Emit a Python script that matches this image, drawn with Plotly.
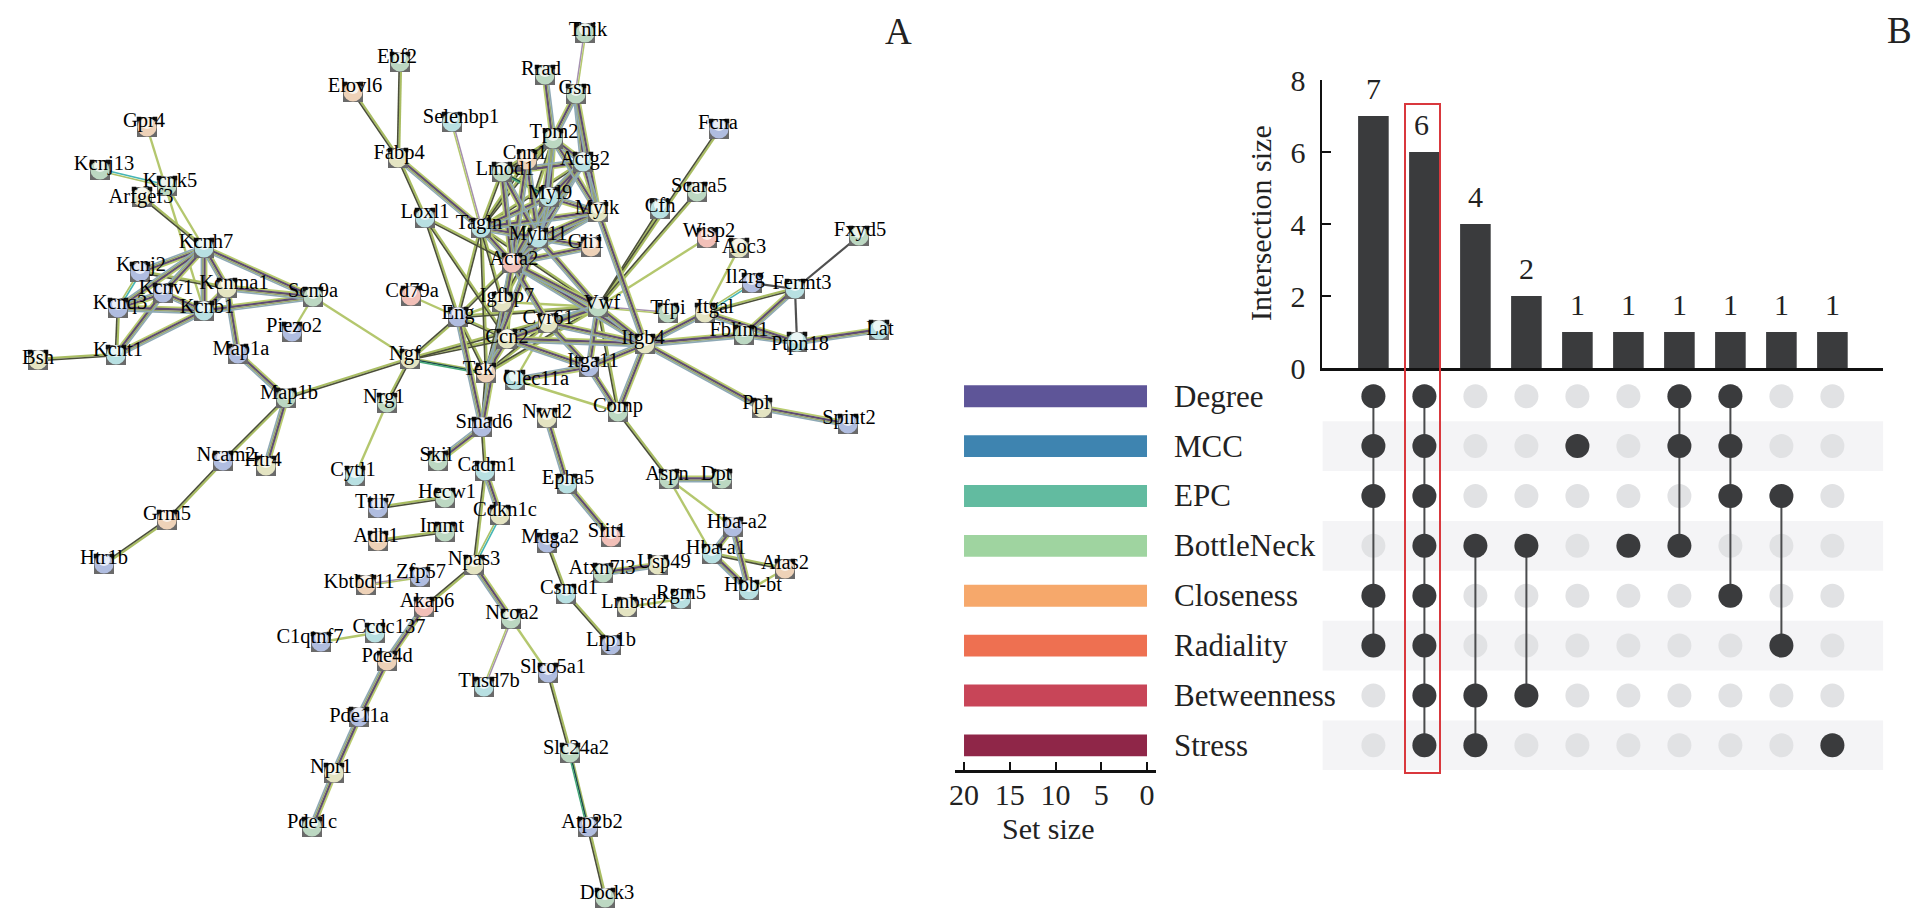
import math
import plotly.graph_objects as go

# ---------- network data (panel A) ----------
node_xy = {
 "Ebf2":(400,62),"Elovl6":(353,92),"Gpr4":(147,127),"Selenbp1":(452,122),"Fabp4":(398,158),
 "Kcnj13":(100,170),"Kcnk5":(167,186),"Arfgef3":(142,197),"Loxl1":(425,218),"Kcnh7":(204,248),
 "Kcnj2":(140,272),"Kcnma1":(227,288),"Kcnv1":(163,293),"Scn9a":(313,297),"Kcnq3":(118,308),
 "Kcnb1":(204,311),"Cd79a":(411,296),"Eng":(458,317),"Piezo2":(292,332),"Bsh":(38,360),
 "Kcnt1":(116,355),"Map1a":(238,354),"Ngf":(410,359),"Map1b":(286,398),"Nrg1":(387,403),
 "Ncam2":(223,461),"Htr4":(266,466),"Grm5":(167,520),"Htr1b":(104,564),"Cytl1":(355,476),
 "Skil":(438,461),"Ttll7":(378,508),"Hecw1":(445,498),"Adh1":(378,541),"Immt":(445,532),
 "Npas3":(474,565),"Kbtbd11":(366,585),"Zfp57":(420,577),"Akap6":(424,607),"Ccdc137":(375,633),
 "C1qtnf7":(321,642),"Pde4d":(387,661),"Pde11a":(359,717),"Npr1":(334,773),"Pde1c":(312,827),
 "Tnik":(585,33),"Rrad":(545,75),"Gsn":(576,94),"Tpm2":(553,139),"Fcna":(719,129),
 "Cnn1":(527,160),"Actg2":(583,162),"Lmod1":(502,172),"Myl9":(549,197),"Mylk":(598,212),
 "Scara5":(697,192),"Cfh":(660,209),"Tagln":(481,228),"Myh11":(538,238),"Gli1":(591,247),
 "Wisp2":(707,238),"Aoc3":(739,248),"Fxyd5":(859,236),"Acta2":(512,263),"Il2rg":(752,283),
 "Fermt3":(795,289),"Igfbp7":(502,302),"Vwf":(598,307),"Tfpi":(668,313),"Itgal":(705,313),
 "Cyr61":(548,323),"Fblim1":(744,335),"Ptpn18":(797,342),"Lat":(879,330),"Ccn2":(507,339),
 "Itgb4":(645,344),"Itga11":(589,367),"Tek":(486,373),"Clec11a":(515,380),"Comp":(618,412),
 "Ppl":(762,408),"Spint2":(848,424),"Nwd2":(547,418),"Smad6":(482,427),"Cadm1":(485,471),
 "Epha5":(567,484),"Aspn":(669,479),"Dpt":(722,479),"Cdkn1c":(500,515),"Hba-a2":(733,527),
 "Slit1":(611,537),"Mdga2":(547,543),"Hba-a1":(712,554),"Alas2":(785,569),"Usp49":(658,565),
 "Atxn7l3":(603,573),"Hbb-bt":(749,590),"Rgm5":(681,599),"Lmbrd2":(627,607),"Csmd1":(566,594),
 "Ncoa2":(511,619),"Lrp1b":(611,645),"Slco5a1":(548,673),"Thsd7b":(484,687),"Slc24a2":(570,753),
 "Atp2b2":(588,827),"Dock3":(605,898),
}
label_offset = {
 "Ebf2":(-3,-4),"Elovl6":(2,-5),"Gpr4":(-3,-5),"Selenbp1":(9,-4),"Fabp4":(1,-4),"Kcnj13":(4,-5),
 "Kcnk5":(3,-4),"Arfgef3":(-1,1),"Loxl1":(0,-5),"Kcnh7":(2,-5),"Kcnj2":(1,-6),"Kcnma1":(7,-4),
 "Kcnv1":(3,-4),"Scn9a":(0,-5),"Kcnq3":(2,-4),"Kcnb1":(3,-3),"Cd79a":(1,-4),"Eng":(0,-3),
 "Piezo2":(2,-5),"Bsh":(0,-1),"Kcnt1":(2,-4),"Map1a":(3,-4),"Ngf":(-5,-4),"Map1b":(3,-4),
 "Nrg1":(-3,-5),"Ncam2":(3,-5),"Htr4":(-3,-5),"Grm5":(0,-5),"Htr1b":(0,-5),"Cytl1":(-2,-5),
 "Skil":(-2,-5),"Ttll7":(-3,-5),"Hecw1":(2,-5),"Adh1":(-2,-4),"Immt":(-3,-5),"Npas3":(0,-5),
 "Kbtbd11":(-7,-2),"Zfp57":(1,-4),"Akap6":(3,-5),"Ccdc137":(14,-5),"C1qtnf7":(-11,-4),
 "Pde4d":(0,-4),"Pde11a":(0,0),"Npr1":(-3,-5),"Pde1c":(0,-4),"Tnik":(3,-2),"Rrad":(-4,-5),
 "Gsn":(-1,-5),"Tpm2":(1,-6),"Fcna":(-1,-5),"Cnn1":(-2,-6),"Actg2":(2,-2),"Lmod1":(3,-2),
 "Myl9":(1,-3),"Mylk":(-1,-3),"Scara5":(2,-5),"Cfh":(0,-2),"Tagln":(-2,-4),"Myh11":(0,-3),
 "Gli1":(-5,-4),"Wisp2":(2,-6),"Aoc3":(5,0),"Fxyd5":(1,-5),"Acta2":(2,-3),"Il2rg":(-7,-5),
 "Fermt3":(7,-5),"Igfbp7":(5,-5),"Vwf":(4,-3),"Tfpi":(0,-4),"Itgal":(10,-5),"Cyr61":(0,-4),
 "Fblim1":(-5,-4),"Ptpn18":(3,3),"Lat":(1,0),"Ccn2":(0,-1),"Itgb4":(-2,-5),"Itga11":(4,-5),
 "Tek":(-8,-3),"Clec11a":(21,0),"Comp":(0,-5),"Ppl":(-6,-4),"Spint2":(1,-5),"Nwd2":(0,-5),
 "Smad6":(2,-4),"Cadm1":(2,-5),"Epha5":(1,-5),"Aspn":(-2,-4),"Dpt":(-6,-4),"Cdkn1c":(5,-4),
 "Hba-a2":(4,-4),"Slit1":(-4,-5),"Mdga2":(3,-5),"Hba-a1":(4,-5),"Alas2":(0,-5),"Usp49":(6,-2),
 "Atxn7l3":(-1,-4),"Hbb-bt":(4,-4),"Rgm5":(0,-5),"Lmbrd2":(7,-4),"Csmd1":(3,-5),"Ncoa2":(1,-5),
 "Lrp1b":(0,-4),"Slco5a1":(5,-5),"Thsd7b":(5,-5),"Slc24a2":(6,-4),"Atp2b2":(4,-4),"Dock3":(2,-4),
}
tint_groups = {
 "#bcd8c2":["Ebf2","Kcnj13","Scn9a","Nrg1","Skil","Hecw1","Tnik","Rrad","Gsn","Tpm2","Lmod1","Scara5","Fxyd5","Vwf","Tfpi","Fblim1","Comp","Aspn","Dpt","Ncoa2","Atxn7l3","Slc24a2","Dock3","Pde1c","Immt","Map1b","Kcnk5"],
 "#eed2b8":["Elovl6","Gpr4","Grm5","Adh1","Kbtbd11","Pde4d","Cnn1","Gli1","Tek","Alas2"],
 "#f2c0b8":["Cd79a","Akap6","Acta2","Wisp2","Slit1"],
 "#b0bde0":["Kcnj2","Kcnv1","Kcnq3","Eng","Piezo2","Map1a","Ncam2","Htr1b","Ttll7","Zfp57","C1qtnf7","Pde11a","Il2rg","Itga11","Smad6","Mdga2","Hba-a2","Lrp1b","Slco5a1","Atp2b2","Fcna","Spint2"],
 "#b8e0e2":["Selenbp1","Loxl1","Kcnh7","Kcnb1","Kcnt1","Cytl1","Ccdc137","Actg2","Myl9","Cfh","Tagln","Myh11","Fermt3","Cadm1","Epha5","Hbb-bt","Rgm5","Csmd1","Thsd7b","Hba-a1","Clec11a","Lat","Ptpn18"],
 "#e4e4c2":["Fabp4","Arfgef3","Kcnma1","Bsh","Ngf","Htr4","Mylk","Aoc3","Igfbp7","Itgal","Cyr61","Ccn2","Itgb4","Ppl","Nwd2","Cdkn1c","Npas3","Usp49","Lmbrd2","Npr1"],
}
EDGES_THIN = ["Gpr4-Kcnb1","Kcnk5-Kcnh7","Scn9a-Piezo2","Scn9a-Ngf","Nrg1-Cytl1","Cd79a-Eng","Wisp2-Vwf","Cyr61-Clec11a","Clec11a-Comp","Itgal-Aoc3","Aspn-Hba-a2","Aspn-Hba-a1","Hbb-bt-Alas2","Ncoa2-Slco5a1","C1qtnf7-Ccdc137","Lmbrd2-Rgm5","Eng-Igfbp7","Igfbp7-Vwf"]
EDGES_PURPLE = ["Selenbp1-Tagln","Gsn-Tnik","Vwf-Tfpi","Ncoa2-Thsd7b","Kbtbd11-Zfp57"]
EDGES_OLIVE = ["Arfgef3-Kcnh7","Kcnj2-Kcnma1","Kcnq3-Kcnt1","Bsh-Kcnt1","Map1b-Ngf","Map1b-Ncam2","Ncam2-Grm5","Grm5-Htr1b","Nrg1-Ngf","Ebf2-Fabp4","Elovl6-Fabp4","Fabp4-Loxl1","Loxl1-Eng","Loxl1-Acta2","Loxl1-Ccn2","Eng-Ngf","Ngf-Ccn2","Ngf-Vwf","Eng-Tagln","Eng-Acta2","Eng-Vwf","Eng-Ccn2","Eng-Tek","Tagln-Tek","Tagln-Igfbp7","Tagln-Vwf","Acta2-Tek","Acta2-Igfbp7","Acta2-Ccn2","Fcna-Vwf","Scara5-Vwf","Cfh-Vwf","Vwf-Comp","Vwf-Tek","Myh11-Igfbp7","Tek-Smad6","Cyr61-Tek","Itgal-Fermt3","Comp-Aspn","Hba-a1-Alas2","Smad6-Cadm1","Cadm1-Npas3","Npas3-Akap6","Slco5a1-Slc24a2","Atp2b2-Dock3","Ttll7-Hecw1","Adh1-Immt","Mdga2-Csmd1","Csmd1-Lrp1b","Tpm2-Acta2","Tagln-Lmod1","Tagln-Cnn1","Tagln-Tpm2","Tagln-Actg2","Lmod1-Tpm2","Lmod1-Cnn1","Tpm2-Cnn1"]
EDGES_TEAL = ["Kcnj13-Kcnk5","Kcnj2-Kcnq3","Il2rg-Itgal","Cdkn1c-Npas3"]
EDGES_DARK = ["Il2rg-Fermt3","Fermt3-Ptpn18","Fxyd5-Fermt3"]
EDGES_DEEP = ["Ngf-Tek","Lmod1-Myl9","Slc24a2-Atp2b2"]
EDGES_MULTI = ["Kcnh7-Kcnj2","Kcnh7-Kcnq3","Kcnh7-Kcnv1","Kcnh7-Kcnb1","Kcnh7-Kcnma1","Kcnh7-Scn9a","Kcnq3-Kcnb1","Kcnv1-Kcnq3","Kcnv1-Kcnb1","Kcnt1-Kcnb1","Kcnt1-Kcnv1","Kcnma1-Scn9a","Kcnb1-Scn9a","Kcnb1-Kcnma1","Kcnma1-Map1a","Map1a-Map1b","Map1b-Htr4","Fabp4-Tagln","Eng-Smad6","Tagln-Myl9","Tagln-Mylk","Tagln-Myh11","Tagln-Acta2","Acta2-Myh11","Acta2-Myl9","Acta2-Mylk","Acta2-Actg2","Acta2-Cnn1","Acta2-Lmod1","Acta2-Gli1","Acta2-Vwf","Acta2-Itgb4","Acta2-Cyr61","Acta2-Smad6","Myh11-Vwf","Myh11-Mylk","Myh11-Myl9","Myh11-Actg2","Myh11-Tpm2","Myh11-Lmod1","Myh11-Cnn1","Myh11-Tek","Myh11-Gli1","Tpm2-Actg2","Tpm2-Mylk","Tpm2-Myl9","Tpm2-Gsn","Tpm2-Rrad","Gsn-Actg2","Gsn-Mylk","Mylk-Itgb4","Mylk-Myl9","Mylk-Actg2","Actg2-Myl9","Actg2-Lmod1","Vwf-Itgb4","Vwf-Itga11","Vwf-Cyr61","Vwf-Ccn2","Cyr61-Ccn2","Cyr61-Itgb4","Cyr61-Itga11","Ccn2-Itgb4","Ccn2-Itga11","Ccn2-Tek","Itgb4-Itga11","Itgb4-Comp","Itgb4-Itgal","Itgb4-Fblim1","Itgb4-Ppl","Itga11-Clec11a","Itga11-Comp","Itgal-Ptpn18","Fblim1-Fermt3","Fblim1-Ptpn18","Ptpn18-Lat","Ppl-Spint2","Aspn-Dpt","Hba-a2-Hba-a1","Hba-a2-Hbb-bt","Hba-a1-Hbb-bt","Smad6-Skil","Nwd2-Epha5","Epha5-Slit1","Cadm1-Cdkn1c","Npas3-Ncoa2","Akap6-Pde4d","Pde4d-Pde11a","Pde11a-Npr1","Npr1-Pde1c","Atxn7l3-Usp49"]

# ---------- UpSet data (panel B) ----------
set_names = ["Degree","MCC","EPC","BottleNeck","Closeness","Radiality","Betweenness","Stress"]
set_sizes = [20,20,20,20,20,20,20,20]
set_colors = ["#5e5598","#3e84b0","#62bba0","#9fd4a0","#f6a86b","#ee7051","#c84558","#8f2648"]
intersection_sizes = [7,6,4,2,1,1,1,1,1,1]
intersection_members = [[0,1,2,4,5],[0,1,2,3,4,5,6,7],[3,6,7],[3,6],[1],[3],[0,1,3],[0,1,2,4],[2,5],[7]]
size_ticks = [0,2,4,6,8]
set_ticks = [0,5,10,15,20]

W, H = 1926, 922
SERIF = "Liberation Serif"
INK = "#222222"
BAR = "#3a3b3d"

fig = go.Figure()

bundles = [
 (EDGES_THIN,  [(0,"#b4c76e",2.4)]),
 (EDGES_PURPLE,[(-0.8,"#a48fb0",1.5),(0.8,"#b4c76e",1.5)]),
 (EDGES_TEAL,  [(-1.0,"#45b5b5",1.6),(1.0,"#adc168",1.6)]),
 (EDGES_DARK,  [(0,"#505050",2.2)]),
 (EDGES_OLIVE, [(-1.1,"#a9bd62",2.2),(0.7,"#4a4e38",1.6)]),
 (EDGES_DEEP,  [(-1.3,"#a9bd62",1.4),(0,"#1c4a4a",1.6),(1.3,"#45a878",1.4)]),
 (EDGES_MULTI, [(-2.4,"#b9cc6e",2.0),(-0.5,"#5f4b72",2.3),(1.2,"#9aa86a",1.6),(2.6,"#8ea9b5",1.6)]),
]
for edges, bands in bundles:
    for off, col, wid in bands:
        xs, ys = [], []
        for e in edges:
            a, b = None, None
            for k in node_xy:
                if e.startswith(k + "-") and e[len(k)+1:] in node_xy:
                    a, b = k, e[len(k)+1:]
                    break
            if a is None:
                continue
            (x0, y0), (x1, y1) = node_xy[a], node_xy[b]
            L = math.hypot(x1-x0, y1-y0) or 1
            nx, ny = -(y1-y0)/L, (x1-x0)/L
            xs += [x0+nx*off, x1+nx*off, None]
            ys += [y0+ny*off, y1+ny*off, None]
        fig.add_trace(go.Scatter(x=xs, y=ys, mode="lines", line=dict(color=col, width=wid),
                                 hoverinfo="skip", xaxis="x", yaxis="y"))

names = list(node_xy)
nx_ = [node_xy[n][0] for n in names]
ny_ = [node_xy[n][1] for n in names]
tint = {}
for c, ms in tint_groups.items():
    for m in ms:
        tint[m] = c
colors = [tint.get(n, "#bcd8c2") for n in names]

fig.add_trace(go.Scatter(x=nx_, y=ny_, mode="markers", hoverinfo="skip",
    marker=dict(symbol="square", size=20, color="#6a6a6a", line=dict(width=0))))
fig.add_trace(go.Scatter(x=[v-8 for v in nx_]+[v+8 for v in nx_], y=[v-8 for v in ny_]*2, mode="markers", hoverinfo="skip",
    marker=dict(symbol="square", size=4.5, color="#111111", line=dict(width=0))))
fig.add_trace(go.Scatter(x=nx_, y=ny_, mode="markers", hoverinfo="skip",
    marker=dict(symbol="circle", size=19, color=colors, line=dict(width=0))))
fig.add_trace(go.Scatter(x=nx_, y=[v-4 for v in ny_], mode="markers", hoverinfo="skip",
    marker=dict(symbol="circle", size=12, color="rgba(255,255,255,0.72)", line=dict(width=0))))
fig.add_trace(go.Scatter(
    x=[node_xy[n][0]+label_offset[n][0] for n in names],
    y=[node_xy[n][1]+label_offset[n][1] for n in names],
    text=names, mode="text", textposition="middle center", hoverinfo="skip",
    textfont=dict(family=SERIF, size=20.5, color="#000000")))

# intersection bars
cols = list(range(len(intersection_sizes)))
fig.add_trace(go.Bar(x=cols, y=intersection_sizes, width=0.6, marker=dict(color=BAR, line=dict(width=0)),
                     xaxis="x2", yaxis="y2", hoverinfo="skip"))
# matrix
nrows = len(set_names)
fig.add_trace(go.Scatter(x=[c for c in cols for r in range(nrows)], y=[r for c in cols for r in range(nrows)],
    mode="markers", marker=dict(size=24, color="#e1e2e4", line=dict(width=0)), xaxis="x3", yaxis="y3", hoverinfo="skip"))
for c, mem in zip(cols, intersection_members):
    if len(mem) > 1:
        fig.add_trace(go.Scatter(x=[c, c], y=[min(mem), max(mem)], mode="lines",
            line=dict(color="#4a4b4d", width=2), xaxis="x3", yaxis="y3", hoverinfo="skip"))
    fig.add_trace(go.Scatter(x=[c]*len(mem), y=mem, mode="markers",
        marker=dict(size=24, color=BAR, line=dict(width=0)), xaxis="x3", yaxis="y3", hoverinfo="skip"))
# set-size bars
fig.add_trace(go.Bar(x=set_sizes, y=list(range(nrows)), orientation="h", width=0.44,
    marker=dict(color=set_colors, line=dict(width=0)), xaxis="x4", yaxis="y3", hoverinfo="skip"))

SPINE_L, SPINE_R = 1322.4, 1883.4
fig.update_layout(
    template="none",
    width=W, height=H, margin=dict(l=0, r=0, t=0, b=0, pad=0), paper_bgcolor="white", plot_bgcolor="rgba(0,0,0,0)",
    showlegend=False, barmode="overlay",
    font=dict(family=SERIF, color=INK),
    xaxis=dict(domain=[0, 1], range=[0, W], visible=False, fixedrange=True),
    yaxis=dict(domain=[0, 1], range=[H, 0], visible=False, fixedrange=True),
    xaxis2=dict(domain=[SPINE_L/W, SPINE_R/W], range=[-1, 10], anchor="y2", showticklabels=False, ticks="",
                showgrid=False, zeroline=False, showline=True, linecolor="#111111", linewidth=3),
    yaxis2=dict(domain=[1-368/H, 1-80/H], range=[0, 8], anchor="x2", tickvals=size_ticks, ticks="inside", ticklen=9,
                tickwidth=2, tickcolor="#111111", showgrid=False, zeroline=False, showline=True, linecolor="#111111",
                linewidth=2, tickfont=dict(family=SERIF, size=30, color=INK), ticklabelstandoff=9),
    xaxis3=dict(domain=[SPINE_L/W, SPINE_R/W], range=[-1, 10], anchor="y3", visible=False),
    yaxis3=dict(domain=[1-770.3/H, 1-371.3/H], range=[nrows-0.5, -0.5], anchor="x3", visible=False),
    xaxis4=dict(domain=[954.5/W, 1155.7/W], range=[21.04, -0.95], anchor="y3", tickvals=set_ticks, ticks="inside",
                ticklen=9, tickwidth=1.5, tickcolor="#111111", showgrid=False, zeroline=False, showline=True,
                linecolor="#111111", linewidth=2.5, tickfont=dict(family=SERIF, size=30, color=INK),
                ticklabelstandoff=-4),
)

shapes = []
for r in range(1, nrows, 2):
    shapes.append(dict(type="rect", xref="x3", yref="y3", x0=-1, x1=10, y0=r-0.5, y1=r+0.5,
                       fillcolor="#f4f4f6", line=dict(width=0), layer="below"))
shapes.append(dict(type="rect", xref="x", yref="y", x0=1405, x1=1440, y0=104, y1=773,
                   line=dict(color="#d9383d", width=2), fillcolor="rgba(0,0,0,0)", layer="above"))
fig.update_layout(shapes=shapes)

ann = []
for c, v in zip(cols, intersection_sizes):
    ann.append(dict(x=c, y=v, xref="x2", yref="y2", yshift=28, xshift=-3 if c == 1 else 0, text=str(v), showarrow=False,
                    font=dict(family=SERIF, size=30, color=INK), xanchor="center", yanchor="middle"))
for r, n in enumerate(set_names):
    ann.append(dict(x=1172, y=r, xref="x", yref="y3", text=n, showarrow=False, xanchor="left", yanchor="middle",
                    font=dict(family=SERIF, size=31, color=INK)))
ann.append(dict(x=1260, y=223, xref="x", yref="y", text="Intersection size", textangle=-90, showarrow=False,
                font=dict(family=SERIF, size=30, color=INK), xanchor="center", yanchor="middle"))
ann.append(dict(x=1048, y=828, xref="x", yref="y", text="Set size", showarrow=False,
                font=dict(family=SERIF, size=30, color=INK), xanchor="center", yanchor="middle"))
ann.append(dict(x=898, y=31, xref="x", yref="y", text="A", showarrow=False,
                font=dict(family=SERIF, size=37, color=INK), xanchor="center", yanchor="middle"))
ann.append(dict(x=1899, y=30, xref="x", yref="y", text="B", showarrow=False,
                font=dict(family=SERIF, size=37, color=INK), xanchor="center", yanchor="middle"))
fig.update_layout(annotations=ann)

fig.write_html("out.html", config={"displayModeBar": False},
               post_script="document.body.style.margin='0';document.documentElement.style.overflow='hidden';")
